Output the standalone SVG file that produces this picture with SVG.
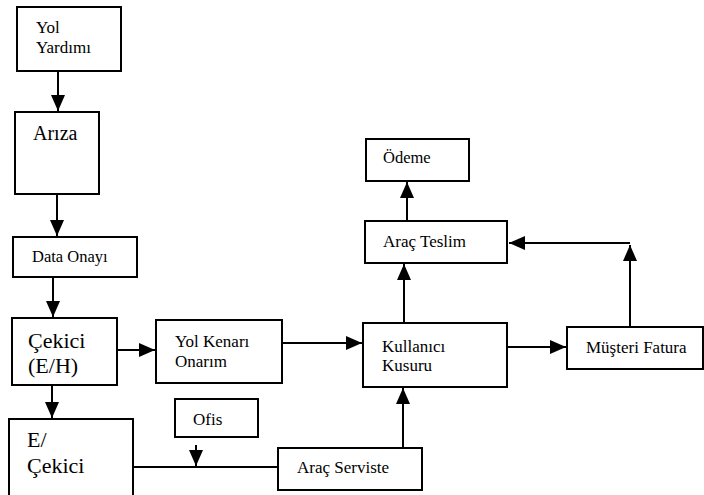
<svg xmlns="http://www.w3.org/2000/svg" width="704" height="495" viewBox="0 0 704 495">
<style>
.box{fill:#fff;stroke:#000;stroke-width:2}
text{font-family:'Liberation Serif','DejaVu Serif','Times New Roman',serif;fill:#000}
.c{fill:none;stroke:#000;stroke-width:2}
</style>
<defs>
<marker id="ah" viewBox="0 0 16 14" refX="16" refY="7" markerWidth="16" markerHeight="14" orient="auto" markerUnits="userSpaceOnUse">
<path d="M0,0 L16,7 L0,14 z" fill="#000"/>
</marker>
</defs>
<rect width="704" height="495" fill="#fff"/>
<g id="connectors">
<path class="c" d="M58,71 L58,111" marker-end="url(#ah)"/>
<path class="c" d="M57,194 L57,236" marker-end="url(#ah)"/>
<path class="c" d="M53,277 L53,317" marker-end="url(#ah)"/>
<path class="c" d="M117,350 L155,350" marker-end="url(#ah)"/>
<path class="c" d="M52,385 L52,418" marker-end="url(#ah)"/>
<path class="c" d="M282,343 L362,343" marker-end="url(#ah)"/>
<path class="c" d="M133,467 L278,467"/>
<path class="c" d="M196,445 L196,466" marker-end="url(#ah)"/>
<path class="c" d="M403,449 L403,388" marker-end="url(#ah)"/>
<path class="c" d="M404,323 L404,264" marker-end="url(#ah)"/>
<path class="c" d="M407,221 L407,182" marker-end="url(#ah)"/>
<path class="c" d="M507,347 L566,347" marker-end="url(#ah)"/>
<path class="c" d="M630,327 L630,245" marker-end="url(#ah)"/>
<path class="c" d="M630,243 L509,243" marker-end="url(#ah)"/>
</g>
<g id="yol-yardimi">
<rect class="box" x="17" y="7" width="104" height="64"/>
<text x="36" y="33" font-size="17" font-family="Liberation Serif">Yol</text>
<text x="36" y="53" font-size="17" font-family="Liberation Serif">Yardımı</text>
</g>
<g id="ariza">
<rect class="box" x="15" y="112" width="84" height="82"/>
<text x="33" y="140" font-size="20" font-family="Liberation Serif">Arıza</text>
</g>
<g id="data-onayi">
<rect class="box" x="13" y="237" width="124" height="40"/>
<text x="32" y="262" font-size="16.5" font-family="Liberation Serif">Data Onayı</text>
</g>
<g id="cekici-eh">
<rect class="box" x="12" y="318" width="105" height="67"/>
<text x="28" y="348" font-size="22" font-family="Liberation Serif">Çekici</text>
<text x="28" y="373" font-size="22" font-family="Liberation Serif">(E/H)</text>
</g>
<g id="e-cekici">
<rect class="box" x="9" y="419" width="124" height="90"/>
<text x="27" y="447" font-size="22" font-family="Liberation Serif">E/</text>
<text x="27" y="473" font-size="22" font-family="Liberation Serif">Çekici</text>
</g>
<g id="yol-kenari">
<rect class="box" x="156" y="320" width="126" height="63"/>
<text x="175" y="347" font-size="17" font-family="Liberation Serif">Yol Kenarı</text>
<text x="175" y="367" font-size="17" font-family="Liberation Serif">Onarım</text>
</g>
<g id="ofis">
<rect class="box" x="175" y="399" width="83" height="38"/>
<text x="193" y="425" font-size="17" font-family="Liberation Serif">Ofis</text>
</g>
<g id="arac-serviste">
<rect class="box" x="278" y="448" width="144" height="42"/>
<text x="297" y="473" font-size="17" font-family="Liberation Serif">Araç Serviste</text>
</g>
<g id="kullanici-kusuru">
<rect class="box" x="363" y="323" width="144" height="64"/>
<text x="382" y="352" font-size="17" font-family="Liberation Serif">Kullanıcı</text>
<text x="382" y="371" font-size="17" font-family="Liberation Serif">Kusuru</text>
</g>
<g id="musteri-fatura">
<rect class="box" x="567" y="327" width="136" height="42"/>
<text x="586" y="353" font-size="17" font-family="Liberation Serif">Müşteri Fatura</text>
</g>
<g id="arac-teslim">
<rect class="box" x="365" y="221" width="142" height="42"/>
<text x="383" y="247" font-size="17" font-family="Liberation Serif">Araç Teslim</text>
</g>
<g id="odeme">
<rect class="box" x="366" y="139" width="103" height="42"/>
<text x="383" y="163" font-size="16.5" font-family="Liberation Serif">Ödeme</text>
</g>
</svg>
